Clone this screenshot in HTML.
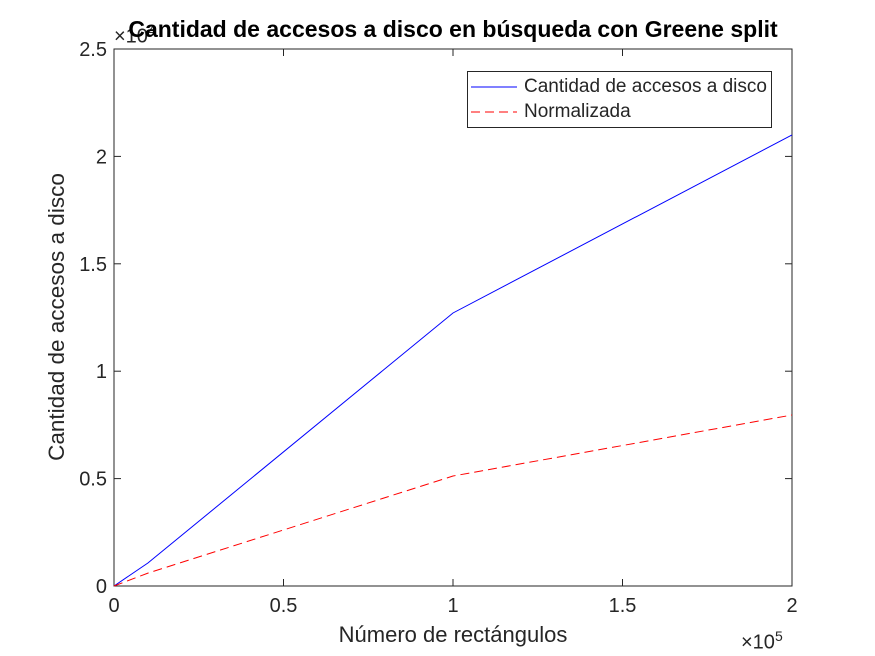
<!DOCTYPE html>
<html><head><meta charset="utf-8"><style>
body{margin:0;background:#fff;}
svg{display:block;font-family:"Liberation Sans",Arial,sans-serif;}
</style></head><body>
<svg id="c" width="875" height="656"></svg>
<script>
const xVals=[0,10000,100000,200000];
const blueVals=[0,1070,12710,21000];
const redVals=[0,600,5120,7960];
const xTicks=[0,50000,100000,150000,200000];
const xTickLabels=["0","0.5","1","1.5","2"];
const yTicks=[0,5000,10000,15000,20000,25000];
const yTickLabels=["0","0.5","1","1.5","2","2.5"];
const L=114,R=792,T=49,B=586;
const sx=v=>L+(v/200000)*(R-L);
const sy=v=>B-(v/25000)*(B-T);
const svg=document.getElementById('c');
const NS='http://www.w3.org/2000/svg';
function mk(t,a,txt){const e=document.createElementNS(NS,t);for(const k in a)e.setAttribute(k,a[k]);if(txt!==undefined)e.textContent=txt;svg.appendChild(e);return e;}
let e;
e=mk('rect',{x:L,y:T,width:R-L,height:B-T,fill:'#fff',stroke:'#262626','stroke-width':1});


xTicks.forEach((v,i)=>{
 e=mk('line',{x1:sx(v),x2:sx(v),y1:B,y2:B-7,stroke:'#262626'});
 
 
 mk('line',{x1:sx(v),x2:sx(v),y1:T,y2:T+7,stroke:'#262626'});
 e=mk('text',{x:sx(v),y:B+26,'text-anchor':'middle','font-size':20,fill:'#262626'},xTickLabels[i]);
 
 
});
yTicks.forEach((v,i)=>{
 e=mk('line',{x1:L,x2:L+7,y1:sy(v),y2:sy(v),stroke:'#262626'});
 
 
 mk('line',{x1:R,x2:R-7,y1:sy(v),y2:sy(v),stroke:'#262626'});
 e=mk('text',{x:L-7,y:sy(v)+7,'text-anchor':'end','font-size':20,fill:'#262626'},yTickLabels[i]);
 
 
});
function line(vals,color,dash,name){
 const d=vals.map((v,i)=>(i?'L':'M')+sx(xVals[i])+','+sy(v)).join(' ');
 const p=mk('path',{d:d,fill:'none',stroke:color,'stroke-width':1});
 if(dash)p.setAttribute('stroke-dasharray',dash);
 
 
}
line(blueVals,'#0000ff',null,'series-accesos');
line(redVals,'#ff0000','9,5','series-normalizada');
</script>
<div style="position:absolute;left:0;top:0;width:875px;height:656px;pointer-events:none;font-family:'Liberation Sans',Arial,sans-serif;color:#262626">
 <div style="position:absolute;left:114px;top:22px;font-size:20px">×10<sup style="font-size:14px">4</sup></div>
 <div style="position:absolute;left:741px;top:628px;font-size:20px">×10<sup style="font-size:14px">5</sup></div>
 <div style="position:absolute;left:0;width:906px;text-align:center;top:16px;font-size:23px;font-weight:bold;color:#000">Cantidad de accesos a disco en búsqueda con Greene split</div>
 <div style="position:absolute;left:114px;width:678px;text-align:center;top:622px;font-size:22px">Número de rectángulos</div>
 <div style="position:absolute;left:57px;top:317px;font-size:22.5px;white-space:nowrap;transform:translate(-50%,-50%) rotate(-90deg)">Cantidad de accesos a disco</div>
 <div style="position:absolute;left:467px;top:71px;width:303px;height:55px;border:1px solid #262626;background:#fff;font-size:19px">
  <svg width="60" height="55" style="position:absolute;left:0;top:0">
   <line x1="3" x2="49" y1="15" y2="15" stroke="#0000ff"/>
   <line x1="3" x2="49" y1="40" y2="40" stroke="#ff0000" stroke-dasharray="9,5"/>
  </svg>
  <div style="position:absolute;left:56px;top:4px;white-space:nowrap">Cantidad de accesos a disco</div>
  <div style="position:absolute;left:56px;top:29px;white-space:nowrap">Normalizada</div>
 </div>
</div>
</body></html>
